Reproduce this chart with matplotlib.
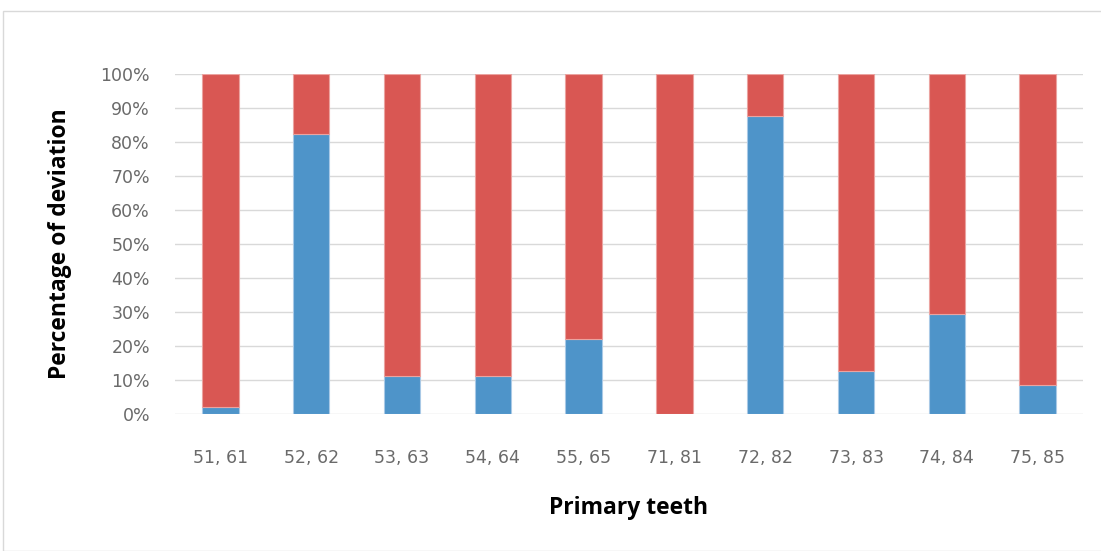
import matplotlib.pyplot as plt
import numpy as np
from matplotlib.patches import Rectangle

plt.rcParams['font.family'] = ['Open Sans', 'DejaVu Sans']

teeth = ['51, 61', '52, 62', '53, 63', '54, 64', '55, 65',
         '71, 81', '72, 82', '73, 83', '74, 84', '75, 85']
blue_pct = [2, 82.4, 11.1, 11.1, 22.2, 0, 87.7, 12.6, 29.5, 8.6]
red_pct = [100 - v for v in blue_pct]

fig = plt.figure(figsize=(11.01, 5.51), dpi=100)
# chart area border
fig.patches.append(Rectangle((3 / 1101, 0), 1.2, 1 - 11 / 551, transform=fig.transFigure,
                             fill=False, edgecolor='#D9D9D9', linewidth=1))
ax = fig.add_axes([175 / 1101, 1 - 414 / 551, 908 / 1101, 340 / 551])

x = np.arange(len(teeth))
ax.bar(x, blue_pct, width=0.4, color='#4E94C9', edgecolor='#A9C9E6', linewidth=0.8, zorder=3)
ax.bar(x, red_pct, width=0.4, bottom=blue_pct, color='#D95753', edgecolor='#EBA3A0',
       linewidth=0.8, zorder=3)

ax.set_xlim(-0.5, len(teeth) - 0.5)
ax.set_ylim(0, 100)
ax.set_yticks(np.arange(0, 101, 10))
ax.set_yticklabels([f'{v}%' for v in range(0, 101, 10)])
ax.set_xticks(x)
ax.set_xticklabels(teeth)
for lab in ax.get_xticklabels() + ax.get_yticklabels():
    lab.set_family('DejaVu Sans')
ax.tick_params(length=0, labelsize=12.5, labelcolor='#6A6A6A')
ax.tick_params(axis='x', pad=25)
ax.tick_params(axis='y', pad=18)
ax.grid(axis='y', color='#D9D9D9', linewidth=1, zorder=0)
for s in ax.spines.values():
    s.set_visible(False)

ax.set_ylabel('Percentage of deviation', fontsize=16.5, fontweight='bold', va='center')
ax.set_xlabel('Primary teeth', fontsize=16.5, fontweight='bold', va='center')
ax.yaxis.set_label_coords((60 - 175) / 908, 0.5)
ax.xaxis.set_label_coords(0.5, (414 - 508) / 340)

plt.savefig('out.png', dpi=100)
